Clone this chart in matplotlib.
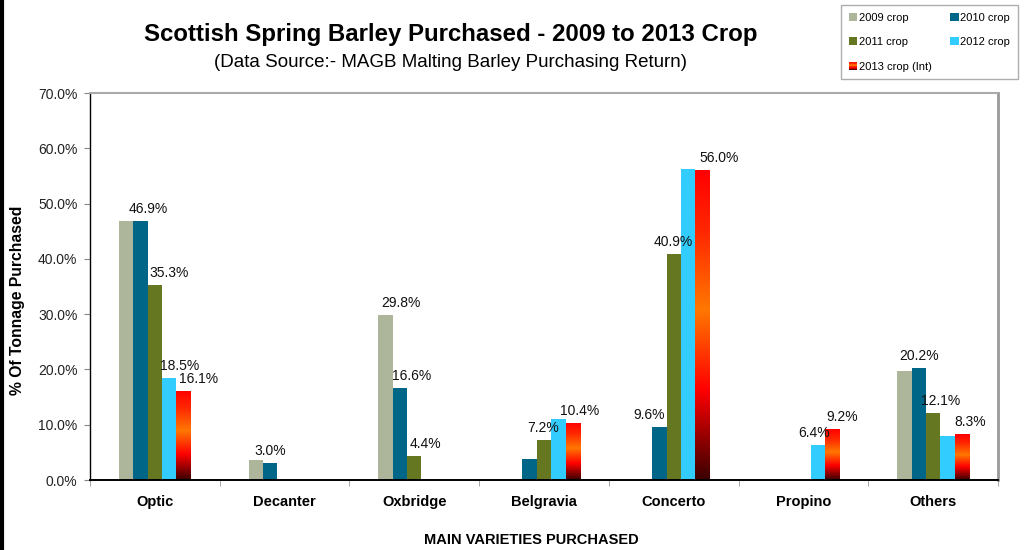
import numpy as np
import matplotlib
matplotlib.use("Agg")
import matplotlib.pyplot as plt
from matplotlib.colors import LinearSegmentedColormap
from matplotlib.patches import Rectangle
from matplotlib.legend_handler import HandlerBase
from matplotlib.lines import Line2D

plt.rcParams['font.family'] = ['Liberation Sans', 'DejaVu Sans']

nan = np.nan
varieties = ["Optic", "Decanter", "Oxbridge", "Belgravia", "Concerto", "Propino", "Others"]
series_names = ["2009 crop", "2010 crop", "2011 crop", "2012 crop", "2013 crop (Int)"]
crop_2009 = [46.9, 3.6, 29.8, nan, nan, nan, 19.7]
crop_2010 = [46.9, 3.0, 16.6, 3.8, 9.6, nan, 20.2]
crop_2011 = [35.3, nan, 4.4, 7.2, 40.9, nan, 12.1]
crop_2012 = [18.5, nan, nan, 11.0, 56.2, 6.4, 8.0]
crop_2013 = [16.1, nan, nan, 10.4, 56.0, 9.2, 8.3]
series_values = [crop_2009, crop_2010, crop_2011, crop_2012, crop_2013]

# bars that carry a value label, with a sideways nudge of the label in pixels
labelled = {
    (1, 0): 8, (2, 0): 14, (3, 0): 10, (4, 0): 15,
    (1, 1): 0,
    (0, 2): 15, (1, 2): 12, (2, 2): 11,
    (2, 3): -1, (4, 3): 7,
    (1, 4): -10, (2, 4): 0, (4, 4): 17,
    (3, 5): -4, (4, 5): 10,
    (1, 6): 0, (2, 6): 7, (4, 6): 8,
}

colors = ["#adb59b", "#006688", "#667722", "#33ccff", None]
grad_cmap = LinearSegmentedColormap.from_list(
    "int_crop",
    [(0.0, "#3a0000"), (0.12, "#8a0000"), (0.29, "#ff0000"),
     (0.55, "#ff7800"), (0.8, "#ff2800"), (1.0, "#ff0000")])

fig = plt.figure(figsize=(10.24, 5.5), dpi=100)
ax = fig.add_axes([90 / 1024, 70 / 550, 908 / 1024, 387 / 550])

x = np.arange(len(varieties))
bw = 0.111
px2pt = 0.72

for i, (name, vals) in enumerate(zip(series_names, series_values)):
    xpos = x + (i - 2) * bw
    h = np.nan_to_num(np.array(vals, dtype=float), nan=0.0)
    if colors[i] is not None:
        rects = ax.bar(xpos, h, width=bw, color=colors[i], linewidth=0, zorder=2)
    else:
        rects = ax.bar(xpos, h, width=bw, facecolor="none", linewidth=0, zorder=2)
        grad = np.linspace(0, 1, 256).reshape(-1, 1)
        for r, v in zip(rects, vals):
            if np.isnan(v):
                continue
            im = ax.imshow(grad, extent=[r.get_x(), r.get_x() + r.get_width(), 0, v],
                           origin="lower", aspect="auto", cmap=grad_cmap, zorder=2)
            im.set_clip_path(r)
    for j, v in enumerate(vals):
        if (i, j) in labelled:
            ax.annotate(f"{v:.1f}%", xy=(xpos[j], v),
                        xytext=(labelled[(i, j)] * px2pt, 12 * px2pt),
                        textcoords="offset points", ha="center", va="center",
                        fontsize=10, color="#111111", zorder=4)

ax.set_xlim(-0.5, len(varieties) - 0.5)
ax.set_ylim(0, 70)
ax.set_yticks(np.arange(0, 71, 10))
ax.set_yticklabels([f"{t:.1f}%" for t in np.arange(0, 71, 10)])
ax.set_xticks(x)
ax.set_xticklabels(varieties, fontweight="bold", fontsize=10.5)
ax.set_xticks(np.arange(-0.5, len(varieties), 1), minor=True)
ax.tick_params(axis="x", which="major", length=0, pad=11)
ax.tick_params(axis="x", which="minor", length=4, color="#999999", direction="out")
ax.tick_params(axis="y", length=4, color="#888888", labelsize=10, pad=5, labelcolor="#222222")

ax.spines["left"].set_color("black")
ax.spines["left"].set_linewidth(1.0)
ax.spines["bottom"].set_color("black")
ax.spines["bottom"].set_linewidth(1.4)
ax.spines["top"].set_color("#aaaaaa")
ax.spines["top"].set_linewidth(1.5)
ax.spines["right"].set_color("#999999")
ax.spines["right"].set_linewidth(2.0)

fig.text(451 / 1024, 1 - 35 / 550, "Scottish Spring Barley Purchased - 2009 to 2013 Crop",
         ha="center", va="center", fontsize=17.3, fontweight="bold")
fig.text(451 / 1024, 1 - 62 / 550, "(Data Source:- MAGB Malting Barley Purchasing Return)",
         ha="center", va="center", fontsize=13.5)
fig.text(18 / 1024, 1 - 300 / 550, "% Of Tonnage Purchased", rotation=90,
         ha="center", va="center", fontsize=11.3, fontweight="bold")
fig.text(531 / 1024, 1 - 540 / 550, "MAIN VARIETIES PURCHASED",
         ha="center", va="center", fontsize=10.5, fontweight="bold")

# thick rule down the left edge of the figure
fig.add_artist(Line2D([2 / 1024, 2 / 1024], [0, 1], transform=fig.transFigure,
                      color="black", linewidth=3))


class GradientHandler(HandlerBase):
    def create_artists(self, legend, orig_handle, xdescent, ydescent,
                       width, height, fontsize, trans):
        n = 12
        arts = []
        for k in range(n):
            arts.append(Rectangle((-xdescent, -ydescent + height * k / n), width, height / n,
                                  facecolor=grad_cmap((k + 0.5) / n), linewidth=0,
                                  transform=trans))
        return arts


handles = [Rectangle((0, 0), 1, 1, facecolor=c, linewidth=0) for c in colors[:4]]
grad_handle = Rectangle((0, 0), 1, 1)
handles.append(grad_handle)
# order entries row-wise across two columns
order = [0, 2, 4, 1, 3]
leg = fig.legend([handles[k] for k in order], [series_names[k] for k in order],
                 loc="upper right", bbox_to_anchor=(1018 / 1024, 1 - 5 / 550),
                 ncol=2, fontsize=8, frameon=True, fancybox=False,
                 edgecolor="#999999", handlelength=0.75, handleheight=0.75,
                 handletextpad=0.15, columnspacing=1.7, labelspacing=1.3,
                 borderpad=0.7, borderaxespad=0,
                 handler_map={grad_handle: GradientHandler()})
leg.get_frame().set_linewidth(1.0)

fig.savefig("out.png", dpi=100)
